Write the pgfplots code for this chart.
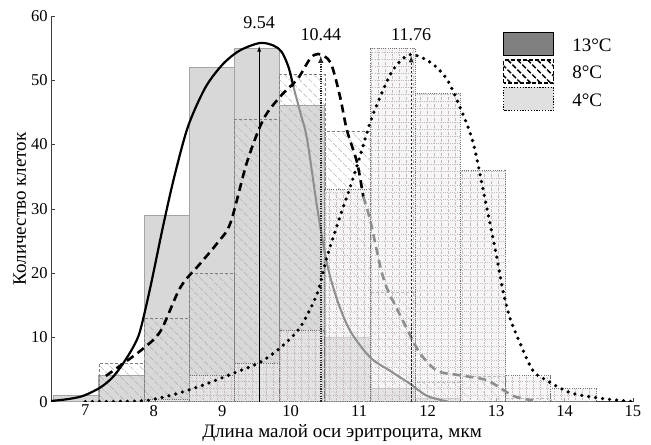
\documentclass[border=0pt]{standalone}
\usepackage{fontspec}
\setmainfont{Liberation Serif}
\usepackage{pgfplots}
\pgfplotsset{compat=1.18}
\usetikzlibrary{patterns.meta}

\definecolor{bar13}{HTML}{D8D8D8}
\definecolor{edge13}{HTML}{A4A4A4}
\definecolor{hatch8}{HTML}{B4ACAC}
\definecolor{grid4}{HTML}{C4B8B8}
\definecolor{fill4}{HTML}{EEEEEE}
\definecolor{tail}{HTML}{8E8E8E}

\begin{document}
\begin{tikzpicture}
\begin{axis}[
    scale only axis, width=581pt, height=385pt,
    xmin=6.5, xmax=15, ymin=0, ymax=60,
    axis x line=bottom, axis y line=left,
    axis line style={-, black!75, line width=0.8pt},
    xtick={7,...,15}, ytick={0,10,...,60},
    tick style={black!75, line width=0.6pt},
    tick align=inside,
    major tick length=4pt,
    ticklabel style={font=\fontsize{16.5}{18}\selectfont},
    /pgf/number format/assume math mode=true,
    xlabel={Длина малой оси эритроцита, мкм},
    ylabel={Количество клеток},
    label style={font=\fontsize{19}{21}\selectfont},
    xlabel style={yshift=-1pt},
    ylabel style={yshift=-2pt},
    legend style={at={(0.771,0.964)}, anchor=north west, draw=none, fill=none,
        font=\fontsize{19}{21}\selectfont, row sep=3pt},
    legend cell align=left,
    legend image code/.code={\draw[#1] (0pt,-10pt) rectangle (50pt,13pt); \path (66pt,0pt);},
]

\addlegendimage{fill=black!50, draw=black, line width=1.3pt}
\addlegendimage{pattern={Lines[angle=-45, distance=7pt, line width=1.5pt]}, draw=black, line width=1.3pt, dash pattern=on 4pt off 2pt}
\addlegendimage{fill=black!12, draw=black, line width=1.3pt, dash pattern=on 1.3pt off 1.5pt}

% 13 C bars
\addplot[forget plot, ybar interval, fill=bar13, draw=edge13, line width=1pt] coordinates {
    (6.54,1) (7.2,4) (7.86,29) (8.52,52) (9.18,55) (9.84,46) (10.5,10) (11.16,2) (11.82,0.5) (12.48,0)
};
% 8 C bars
\addplot[forget plot, ybar interval, draw=black!50, line width=0.6pt, dash pattern=on 3pt off 2pt,
    pattern={Lines[angle=-45, distance=7pt, line width=0.5pt]}, pattern color=hatch8] coordinates {
    (7.2,6) (7.86,13) (8.52,20) (9.18,44) (9.84,51) (10.5,42) (11.16,17) (11.82,3) (12.48,4) (13.14,0.5) (13.8,0)
};
% 4 C bars
\addplot[forget plot, ybar interval, fill=fill4, fill opacity=0.55, draw=black!55, line width=1pt,
    dash pattern=on 1pt off 1.2pt,
    postaction={fill opacity=1, pattern={Hatch[angle=0, distance=7pt, line width=0.45pt]}, pattern color=grid4}] coordinates {
    (7.86,0.3) (8.52,4) (9.18,6) (9.84,11) (10.5,33) (11.16,55) (11.82,48) (12.48,36) (13.14,4) (13.8,2) (14.46,0)
};

% 13 C curve
\addplot[forget plot, smooth, black, line width=2.2pt] coordinates {
    (6.5,0.1) (6.75,0.4) (6.97,0.9) (7.22,2.2) (7.4,3.8) (7.55,5.9) (7.7,8.5) (7.8,11) (7.95,17.8)
    (8.14,27.5) (8.3,35) (8.5,42.8) (8.75,48.8) (9.0,52.4) (9.25,54.6) (9.55,55.8) (9.75,55.4)
    (9.87,54.4) (9.97,52) (10.04,49)
};
\addplot[forget plot, smooth, tail, line width=2pt] coordinates {
    (10.04,49) (10.14,45) (10.24,40.8) (10.39,30) (10.53,21.5) (10.68,15.8) (10.87,11) (11.16,6.9)
    (11.45,4.8) (11.74,2.8) (11.99,0.9) (12.3,0)
};

% 8 C curve
\addplot[forget plot, smooth, black, line width=2.6pt, dash pattern=on 8pt off 5pt] coordinates {
    (7.3,4) (7.55,5.9) (7.85,8.3) (8.1,11) (8.39,17.8) (8.68,21.5) (8.93,24.7) (9.12,27.8) (9.36,37.2)
    (9.6,43.9) (9.85,47.5) (10.1,50.2) (10.28,53.3) (10.4,54.1) (10.58,52.8) (10.72,47.5) (10.82,42.3)
    (10.97,37.2) (11.06,31.9)
};
\addplot[forget plot, smooth, tail, line width=2.6pt, dash pattern=on 8pt off 5pt] coordinates {
    (11.06,31.9) (11.16,28.3) (11.31,21) (11.4,17.8) (11.55,14.5) (11.7,11.3) (11.89,7.5) (12.14,4.8)
    (12.47,4.1) (12.87,3.3) (13.25,0.9) (13.54,0.2)
};

% 4 C curve
\addplot[forget plot, smooth, black, line width=3.6pt, line cap=round, dash pattern=on 0pt off 7pt] coordinates {
    (7.0,0) (7.8,0.1) (8.1,0.6) (8.39,1.4) (8.78,2.8) (9.16,4.4) (9.55,6.1) (9.85,8.4) (10.14,11.6)
    (10.39,16.9) (10.53,22.5) (10.72,28.8) (10.87,33.4) (11.01,38.1) (11.16,43.4) (11.31,47.5) (11.5,51.7)
    (11.74,54) (12.04,52.8) (12.28,50.2) (12.47,45.9) (12.66,40.5) (12.81,33) (12.91,27.8) (13.01,22.5)
    (13.1,17.3) (13.2,13.1) (13.35,9.1) (13.54,4.8) (13.74,3.3) (14.08,1.4) (14.47,0.6) (14.8,0.2) (15,0)
};

% modes
\addplot[forget plot, black, line width=0.9pt, -latex] coordinates {(9.54,0) (9.54,55.3)};
\addplot[forget plot, black!85, line width=1.4pt, dash pattern=on 1.2pt off 1.2pt, -latex] coordinates {(10.44,0) (10.44,53.8)};
\addplot[forget plot, black!85, line width=1.2pt, dash pattern=on 2.5pt off 1.5pt, -latex] coordinates {(11.76,0) (11.76,53.8)};

\node[font=\fontsize{18}{20}\selectfont] at (axis cs:9.54,59.0) {9.54};
\node[font=\fontsize{18}{20}\selectfont] at (axis cs:10.44,57.1) {10.44};
\node[font=\fontsize{18}{20}\selectfont] at (axis cs:11.76,57.1) {11.76};

\coordinate (br) at (axis cs:15,0);
\coordinate (bl) at (axis cs:6.5,0);
\coordinate (tl) at (axis cs:6.5,60);
\legend{13°C, 8°C, 4°C}
\end{axis}
\path (br) ++(18pt,0);
\path (bl) ++(-51pt,0);
\path (tl) ++(0,16pt);
\end{tikzpicture}
\end{document}
